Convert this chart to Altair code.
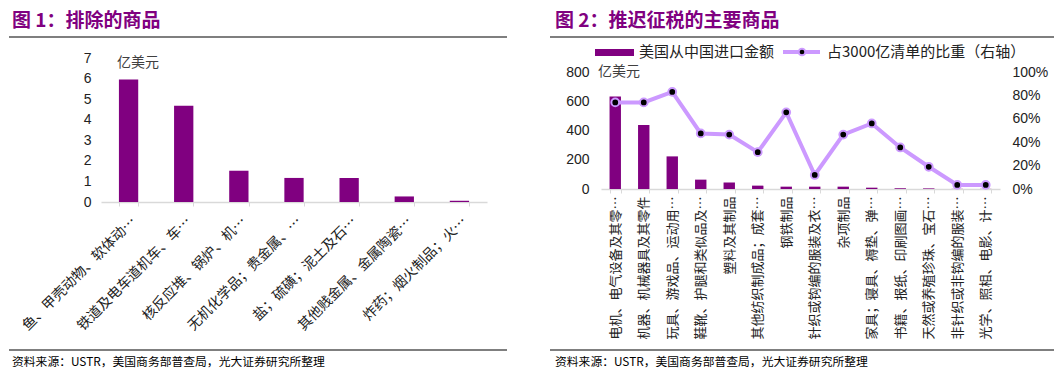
import altair as alt
import pandas as pd

# ---------------- data ----------------
left_categories = ["鱼、甲壳动物、软体动…", "铁道及电车道机车、车…", "核反应堆、锅炉、机…",
                   "无机化学品；贵金属、…", "盐；硫磺；泥土及石…", "其他贱金属、金属陶瓷…",
                   "炸药；烟火制品；火…"]
left_values = [5.95, 4.68, 1.52, 1.17, 1.17, 0.27, 0.06]
left_y_ticks = [0, 1, 2, 3, 4, 5, 6, 7]

right_categories = ["电机、电气设备及其零…", "机器、机械器具及其零件", "玩具、游戏品、运动用…",
                    "鞋靴、护腿和类似品及…", "塑料及其制品", "其他纺织制成品；成套…", "钢铁制品",
                    "针织或钩编的服装及衣…", "杂项制品", "家具；寝具、褥垫、弹…", "书籍、报纸、印刷图画…",
                    "天然或养殖珍珠、宝石…", "非针织或非钩编的服装…", "光学、照相、电影、计…"]
right_imports = [632, 437, 223, 64, 44, 23, 16, 16, 16, 9, 5, 4, 1, 1]
right_share = [0.74, 0.74, 0.83, 0.475, 0.465, 0.315, 0.655, 0.12, 0.465, 0.56, 0.355, 0.19, 0.035, 0.035]
right_y_ticks = [0, 200, 400, 600, 800]
right_pct_ticks = [0, 0.2, 0.4, 0.6, 0.8, 1.0]

title_left = "图 1：排除的商品"
title_right = "图 2：推迟征税的主要商品"
source_text = "资料来源：USTR，美国商务部普查局，光大证券研究所整理"
unit_text = "亿美元"
legend_bar = "美国从中国进口金额"
legend_line = "占3000亿清单的比重（右轴）"

# ---------------- styles ----------------
PURPLE = "#800080"
LILAC = "#cc99ff"
NUM = "Liberation Sans, Noto Sans CJK SC, sans-serif"
CJK = "Noto Sans CJK SC"
TXT = "#222222"
AX = "#d9d9d9"
TITLE_Y = -37.5

# right panel plot area is taller than its 0-800 span so both panels share a top edge
R_H = 131
R_SPAN = 117
R_MAX = 800 * R_H / R_SPAN
P_MAX = 1.0 * R_H / R_SPAN

one = pd.DataFrame({"k": [0]})


def txt(s, x, y, size, color=TXT, weight="normal", font=CJK, align="left"):
    return alt.Chart(pd.DataFrame({"t": [s]})).mark_text(
        align=align, baseline="middle", fontSize=size, color=color,
        fontWeight=weight, font=font
    ).encode(x=alt.value(x), y=alt.value(y), text="t:N")


def hline(x1, x2, y, color="black", w=1.2):
    return alt.Chart(one).mark_rule(color=color, strokeWidth=w).encode(
        x=alt.value(x1), x2=alt.value(x2), y=alt.value(y))


# ---------------- left panel ----------------
dfL = pd.DataFrame({"cat": left_categories, "val": left_values})
xL = alt.X("cat:N", sort=left_categories, title=None,
           scale=alt.Scale(paddingInner=0.65, paddingOuter=0.325),
           axis=alt.Axis(labelAngle=-45, labelFontSize=14, labelFont=CJK, labelColor=TXT,
                         domainColor=AX, domainWidth=1.5, tickColor=AX, tickBand="extent",
                         tickSize=4, labelPadding=8, labelLimit=400, labelOverlap=False))
yL = alt.Y("val:Q", title=None, scale=alt.Scale(domain=[0, 7]),
           axis=alt.Axis(values=left_y_ticks, domain=False, ticks=False, grid=False,
                         labelFontSize=14, labelFont=NUM, labelColor=TXT, labelPadding=10))
barsL = alt.Chart(dfL).mark_bar(color=PURPLE).encode(x=xL, y=yL)

left = alt.layer(
    barsL,
    txt(title_left, -89, TITLE_Y, 19, color=PURPLE, weight="bold"),
    hline(-92, 406, -21),
    hline(-92, 406, 292),
    txt(source_text, -89, 304, 11.8, color="black"),
    txt(unit_text, 16, 5, 14, color="#404040"),
).properties(width=386, height=144)

# ---------------- right panel ----------------
dfR = pd.DataFrame({"cat": right_categories, "imp": right_imports, "share": right_share})
xR = alt.X("cat:N", sort=right_categories, title=None,
           scale=alt.Scale(paddingInner=0.6, paddingOuter=0.3),
           axis=alt.Axis(labelAngle=-90, labelFontSize=13, labelFont=CJK, labelColor=TXT,
                         domainColor=AX, domainWidth=1.5, tickColor=AX, tickBand="extent",
                         tickSize=4, labelPadding=3, labelLimit=400, labelOverlap=False))
barsR = alt.Chart(dfR).mark_bar(color=PURPLE).encode(
    x=xR,
    y=alt.Y("imp:Q", title=None, scale=alt.Scale(domain=[0, R_MAX], nice=False),
            axis=alt.Axis(values=right_y_ticks, domain=False, ticks=False, grid=False,
                          labelFontSize=14, labelFont=NUM, labelColor=TXT, labelPadding=12)))
lineR = alt.Chart(dfR).mark_line(color=LILAC, strokeWidth=4).encode(
    x=xR,
    y=alt.Y("share:Q", title=None, scale=alt.Scale(domain=[0, P_MAX], nice=False),
            axis=alt.Axis(orient="right", values=right_pct_ticks, format=".0%", domain=False,
                          ticks=False, grid=False, labelFontSize=14, labelFont=NUM,
                          labelColor=TXT, labelPadding=12)))
ptsR = alt.Chart(dfR).mark_point(filled=True, fill="black", stroke=LILAC, strokeWidth=2,
                                 size=60, opacity=1).encode(
    x=xR,
    y=alt.Y("share:Q", scale=alt.Scale(domain=[0, P_MAX], nice=False), axis=None))

legend_rect = alt.Chart(one).mark_rect(color=PURPLE).encode(
    x=alt.value(-6), x2=alt.value(33), y=alt.value(-9), y2=alt.value(-2))
legend_rule = alt.Chart(one).mark_rule(color=LILAC, strokeWidth=4).encode(
    x=alt.value(182), x2=alt.value(219), y=alt.value(-6))
legend_pt = alt.Chart(one).mark_point(filled=True, fill="black", stroke=LILAC, strokeWidth=2,
                                      size=45, opacity=1).encode(x=alt.value(201), y=alt.value(-6))

right = alt.layer(
    barsR, lineR, ptsR,
    txt(title_right, -46, TITLE_Y, 19, color=PURPLE, weight="bold"),
    hline(-51, 453, -21),
    hline(-51, 453, 292),
    txt(source_text, -46, 304, 11.8, color="black"),
    txt(unit_text, -3, 14, 14, color="#404040"),
    legend_rect, legend_rule, legend_pt,
    txt(legend_bar, 38, -6, 15),
    txt(legend_line, 226, -6, 15),
).resolve_scale(y="independent").properties(width=399, height=R_H)

chart = alt.hconcat(left, right, spacing=41).properties(
    padding={"top": 3, "left": 0, "right": 0, "bottom": 0}
).configure_view(stroke=None)

chart.save("out.html", embed_options={"renderer": "svg", "actions": False})
